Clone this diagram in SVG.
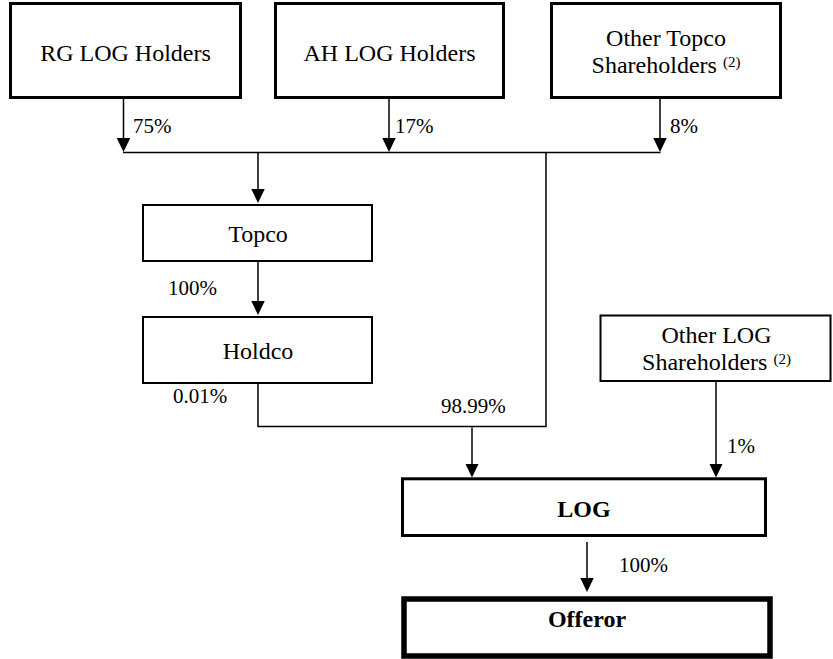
<svg xmlns="http://www.w3.org/2000/svg" width="833" height="659" viewBox="0 0 833 659">
  <defs>
    <marker id="arrow" viewBox="0 0 14 13.5" refX="11" refY="6.75" markerWidth="14" markerHeight="13.5" markerUnits="userSpaceOnUse" orient="auto">
      <path d="M0,0 L14,6.75 L0,13.5 z" fill="#000"/>
    </marker>
  </defs>
  <style>
    text { font-family: 'Liberation Serif', 'Tinos', 'Times New Roman', Times, 'DejaVu Serif', serif; fill: #000; }
    .box { fill: #fff; stroke: #000; }
    .heavy { stroke-width: 3; }
    .light { stroke-width: 2; }
    .mid { stroke-width: 3; }
    .thick { stroke-width: 5.5; }
    .label { font-size: 24px; text-anchor: middle; }
    .bold { font-weight: bold; }
    .sup { font-size: 15px; }
    .pct { font-size: 21px; }
    .wire { fill: none; stroke: #000; stroke-width: 1.5; }
    .arrow { marker-end: url(#arrow); }
  </style>

  <rect width="833" height="659" fill="#fff"/>

  <!-- connectors -->
  <g id="connectors">
    <line class="wire arrow" x1="123.5" y1="99" x2="123.5" y2="149"/>
    <line class="wire arrow" x1="389" y1="99" x2="389" y2="149"/>
    <line class="wire arrow" x1="660" y1="99" x2="660" y2="149"/>
    <line class="wire" x1="123" y1="152.5" x2="660.5" y2="152.5"/>
    <line class="wire arrow" x1="258" y1="152.5" x2="258" y2="200"/>
    <line class="wire arrow" x1="258" y1="262" x2="258" y2="312"/>
    <path class="wire" d="M258,384 V426.5 H546 V152.5"/>
    <line class="wire arrow" x1="472" y1="427.5" x2="472" y2="474.5"/>
    <line class="wire arrow" x1="716" y1="382" x2="716" y2="474.5"/>
    <line class="wire arrow" x1="587" y1="542" x2="587" y2="589"/>

    <text class="pct" font-family="Liberation Serif, serif" x="133" y="133">75%</text>
    <text class="pct" font-family="Liberation Serif, serif" x="395" y="133">17%</text>
    <text class="pct" font-family="Liberation Serif, serif" x="670" y="133">8%</text>
    <text class="pct" font-family="Liberation Serif, serif" x="168" y="295">100%</text>
    <text class="pct" font-family="Liberation Serif, serif" x="173" y="403">0.01%</text>
    <text class="pct" font-family="Liberation Serif, serif" x="441" y="413">98.99%</text>
    <text class="pct" font-family="Liberation Serif, serif" x="727" y="453">1%</text>
    <text class="pct" font-family="Liberation Serif, serif" x="619" y="572">100%</text>
  </g>

  <!-- top-level holders -->
  <g id="rg-log-holders">
    <rect class="box heavy" x="10.5" y="3.5" width="230" height="94"/>
    <text class="label" x="125.5" y="61">RG LOG Holders</text>
  </g>
  <g id="ah-log-holders">
    <rect class="box heavy" x="275.5" y="3.5" width="228" height="94"/>
    <text class="label" x="389.5" y="61">AH LOG Holders</text>
  </g>
  <g id="other-topco-shareholders">
    <rect class="box heavy" x="551.5" y="3.5" width="229" height="94"/>
    <text class="label" x="666" y="46">Other Topco</text>
    <text class="label" x="666" y="73">Shareholders <tspan class="sup" dy="-6">(2)</tspan></text>
  </g>

  <!-- holding chain -->
  <g id="topco">
    <rect class="box light" x="143" y="205" width="229" height="56"/>
    <text class="label" x="258" y="242">Topco</text>
  </g>
  <g id="holdco">
    <rect class="box light" x="143" y="317" width="229" height="66"/>
    <text class="label" x="258" y="359">Holdco</text>
  </g>
  <g id="other-log-shareholders">
    <rect class="box light" x="600.5" y="315.5" width="230" height="65.5"/>
    <text class="label" x="716.5" y="343">Other LOG</text>
    <text class="label" x="716.5" y="370">Shareholders <tspan class="sup" dy="-6">(2)</tspan></text>
  </g>
  <g id="log">
    <rect class="box mid" x="402.5" y="478.8" width="363" height="56.7"/>
    <text class="label bold" x="584" y="517">LOG</text>
  </g>
  <g id="offeror">
    <rect class="box thick" x="404" y="599" width="366" height="57"/>
    <text class="label bold" x="587" y="627">Offeror</text>
  </g>
</svg>
